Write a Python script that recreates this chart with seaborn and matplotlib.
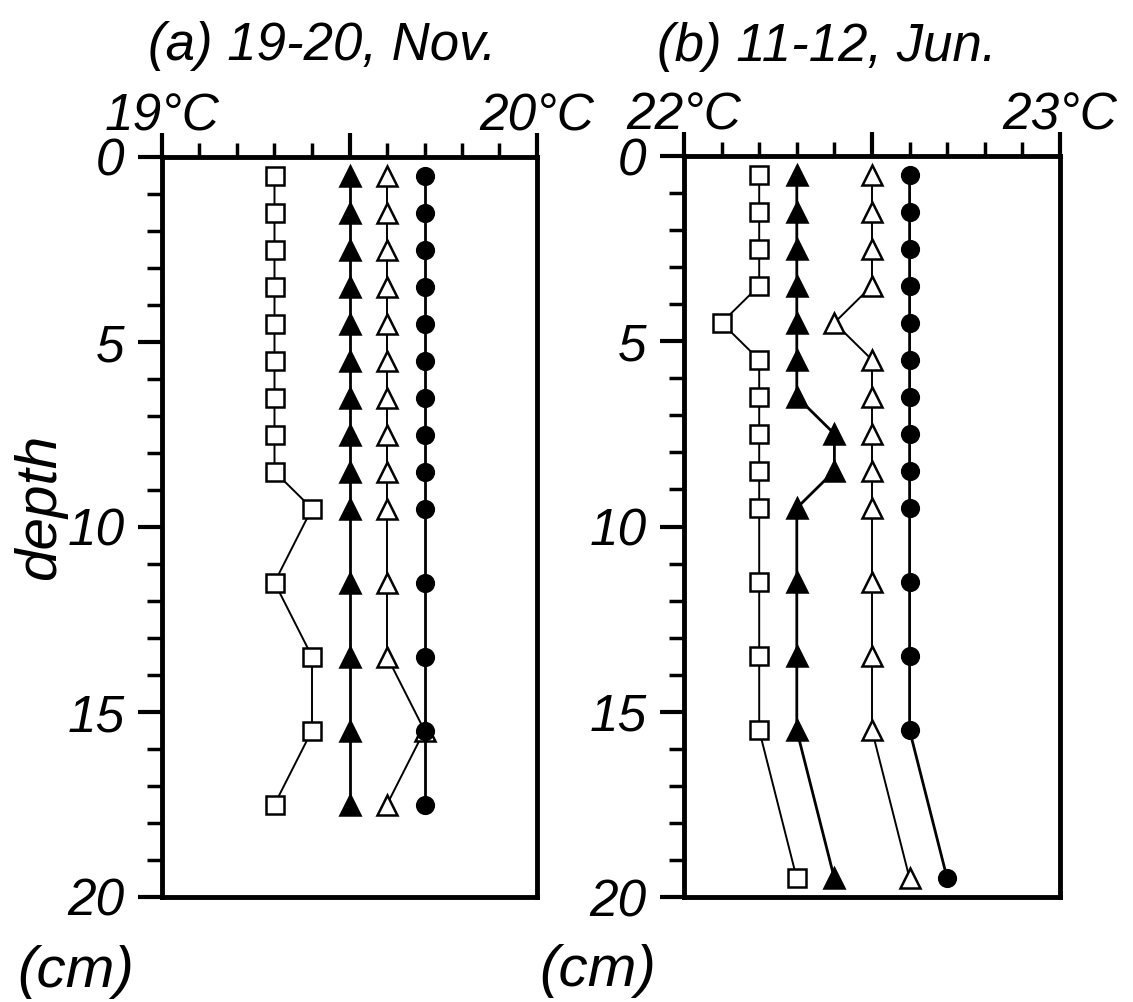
import numpy as np
import pandas as pd
import matplotlib
matplotlib.use("Agg")
import matplotlib.pyplot as plt
from matplotlib.ticker import FixedLocator, MultipleLocator
import seaborn as sns

# ---------------- data ----------------
depth_a = [0.5, 1.5, 2.5, 3.5, 4.5, 5.5, 6.5, 7.5, 8.5, 9.5, 11.5, 13.5, 15.5, 17.5]
open_sq_a = [19.3, 19.3, 19.3, 19.3, 19.3, 19.3, 19.3, 19.3, 19.3, 19.4, 19.3, 19.4, 19.4, 19.3]
fill_tri_a = [19.5, 19.5, 19.5, 19.5, 19.5, 19.5, 19.5, 19.5, 19.5, 19.5, 19.5, 19.5, 19.5, 19.5]
open_tri_a = [19.6, 19.6, 19.6, 19.6, 19.6, 19.6, 19.6, 19.6, 19.6, 19.6, 19.6, 19.6, 19.7, 19.6]
fill_cir_a = [19.7, 19.7, 19.7, 19.7, 19.7, 19.7, 19.7, 19.7, 19.7, 19.7, 19.7, 19.7, 19.7, 19.7]

depth_b = [0.5, 1.5, 2.5, 3.5, 4.5, 5.5, 6.5, 7.5, 8.5, 9.5, 11.5, 13.5, 15.5, 19.5]
open_sq_b = [22.2, 22.2, 22.2, 22.2, 22.1, 22.2, 22.2, 22.2, 22.2, 22.2, 22.2, 22.2, 22.2, 22.3]
fill_tri_b = [22.3, 22.3, 22.3, 22.3, 22.3, 22.3, 22.3, 22.4, 22.4, 22.3, 22.3, 22.3, 22.3, 22.4]
open_tri_b = [22.5, 22.5, 22.5, 22.5, 22.4, 22.5, 22.5, 22.5, 22.5, 22.5, 22.5, 22.5, 22.5, 22.6]
fill_cir_b = [22.6, 22.6, 22.6, 22.6, 22.6, 22.6, 22.6, 22.6, 22.6, 22.6, 22.6, 22.6, 22.6, 22.7]

titles = ["(a) 19-20, Nov.", "(b) 11-12, Jun."]
xlims = [(19.0, 20.0), (22.0, 23.0)]
xmajor_a = [19.0, 19.5, 20.0]
xlabels_a = ["19°C", "", "20°C"]
xmajor_b = [22.0, 22.5, 23.0]
xlabels_b = ["22°C", "", "23°C"]
ymajor = [0, 5, 10, 15, 20]
ylabels = ["0", "5", "10", "15", "20"]

# ---------------- style ----------------
sns.set_style("white")
FAM = ["Liberation Sans", "DejaVu Sans"]
plt.rcParams["font.family"] = FAM
plt.rcParams["font.style"] = "italic"
for key in ["text.color", "xtick.color", "ytick.color", "axes.labelcolor",
            "axes.edgecolor"]:
    plt.rcParams[key] = "black"

fig = plt.figure(figsize=(11.33, 10.02), dpi=100)
W, H = 1133.0, 1002.0
ax_a = fig.add_axes([162 / W, 1 - 897 / H, 375 / W, 740 / H])
ax_b = fig.add_axes([684 / W, 1 - 897 / H, 376 / W, 741 / H])

series_style = [
    ("s", "white", 13, 1.4),
    ("^", "black", 15, 2.0),
    ("^", "white", 14, 1.4),
    ("o", "black", 12, 2.0),
]


def draw_panel(ax, depth, series, xlim, xmajor, xlabels):
    for vals, (mk, fc, ms, lw) in zip(series, series_style):
        df = pd.DataFrame({"temp": vals, "depth": depth})
        sns.lineplot(data=df, x="temp", y="depth", sort=False, estimator=None,
                     ax=ax, color="black", linewidth=lw, marker=mk,
                     markersize=ms, markerfacecolor=fc,
                     markeredgecolor="black", markeredgewidth=1.8)
    ax.set_xlim(*xlim)
    ax.set_ylim(20, 0)
    ax.set_xlabel("")
    ax.set_ylabel("")
    ax.xaxis.tick_top()
    ax.xaxis.set_major_locator(FixedLocator(xmajor))
    ax.xaxis.set_minor_locator(MultipleLocator(0.1))
    ax.set_xticklabels(xlabels)
    ax.yaxis.set_major_locator(FixedLocator(ymajor))
    ax.yaxis.set_minor_locator(MultipleLocator(1))
    ax.set_yticklabels(ylabels)
    ax.tick_params(axis="x", which="major", direction="out", length=17,
                   width=3, pad=-6, labelsize=37, top=True, bottom=False,
                   labeltop=True, labelbottom=False, color="black",
                   labelcolor="black")
    ax.tick_params(axis="x", which="minor", direction="out", length=10,
                   width=2.5, top=True, bottom=False, color="black")
    ax.tick_params(axis="y", which="major", direction="out", length=17,
                   width=3, pad=10, labelsize=37, left=True, right=False,
                   color="black", labelcolor="black")
    ax.tick_params(axis="y", which="minor", direction="out", length=11,
                   width=2.5, left=True, right=False, color="black")
    for sp in ax.spines.values():
        sp.set_color("black")
        sp.set_linewidth(3.5)
    ax.grid(False)
    if ax.get_legend() is not None:
        ax.get_legend().remove()


draw_panel(ax_a, depth_a, [open_sq_a, fill_tri_a, open_tri_a, fill_cir_a],
           xlims[0], xmajor_a, xlabels_a)
draw_panel(ax_b, depth_b, [open_sq_b, fill_tri_b, open_tri_b, fill_cir_b],
           xlims[1], xmajor_b, xlabels_b)

fig.text(322 / W, 1 - 46 / H, titles[0], ha="center", va="center",
         fontsize=38, style="italic")
fig.text(827 / W, 1 - 47 / H, titles[1], ha="center", va="center",
         fontsize=38, style="italic")
fig.text(40 / W, 1 - 507 / H, "depth", ha="center", va="center",
         rotation=90, fontsize=42, style="italic")
fig.text(76 / W, 1 - 972 / H, "(cm)", ha="center", va="center",
         fontsize=42, style="italic")
fig.text(598 / W, 1 - 971 / H, "(cm)", ha="center", va="center",
         fontsize=42, style="italic")

fig.savefig("out.png", dpi=100, facecolor="white")
